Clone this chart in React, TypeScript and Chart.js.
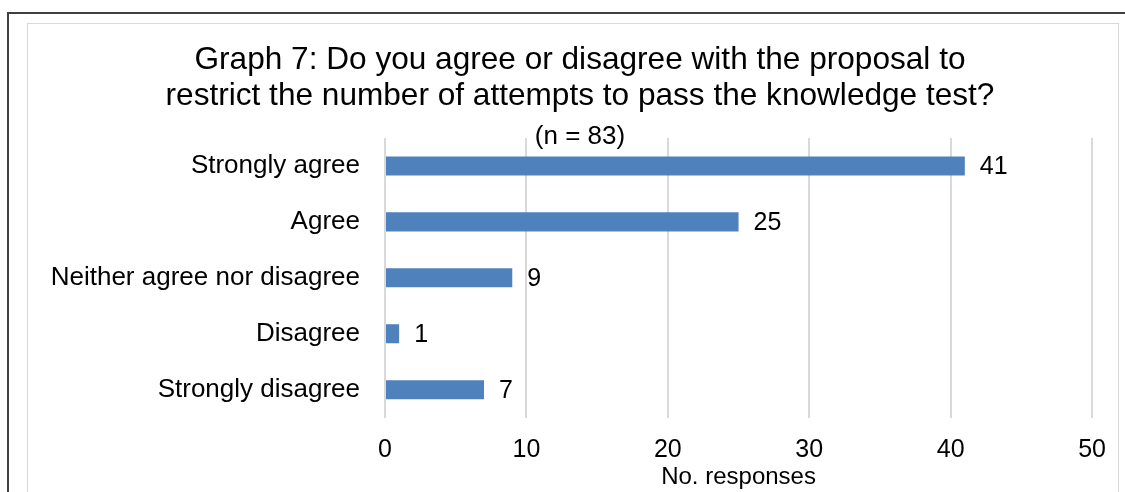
import React, { useEffect, useRef } from 'react';
import { Chart, registerables } from 'chart.js';

Chart.register(...registerables);

const categories = [
  'Strongly agree',
  'Agree',
  'Neither agree nor disagree',
  'Disagree',
  'Strongly disagree',
];
const responses = [41, 25, 9, 1, 7];
const xTickValues = [0, 10, 20, 30, 40, 50];
const titleLines = [
  'Graph 7: Do you agree or disagree with the proposal to',
  'restrict the number of attempts to pass the knowledge test?',
];
const subtitleText = '(n = 83)';
const axisTitleText = 'No. responses';

const FONT = '"Liberation Sans", Arial, Helvetica, sans-serif';
const BAR_COLOR = '#4f81bd';
const GRID_COLOR = '#d9d9d9';
const TITLE_SHIFT = 33;

const dataLabelPlugin = {
  id: 'dataLabels',
  afterDatasetsDraw(chart: any) {
    const ctx = chart.ctx;
    const meta = chart.getDatasetMeta(0);
    ctx.save();
    ctx.font = `25px ${FONT}`;
    ctx.fillStyle = '#000';
    ctx.textAlign = 'left';
    ctx.textBaseline = 'middle';
    meta.data.forEach((el: any, i: number) => {
      ctx.fillText(String(responses[i]), el.x + 15, el.y + 1);
    });
    ctx.restore();
  },
};

// Centre the title block over the whole picture rather than over the plot
const titleShiftPlugin = {
  id: 'titleShift',
  afterLayout(chart: any) {
    chart.boxes
      .filter((b: any) => typeof b._drawArgs === 'function')
      .forEach((b: any) => {
        b.left += TITLE_SHIFT;
        b.right += TITLE_SHIFT;
      });
  },
};

export default function App() {
  const canvasRef = useRef<HTMLCanvasElement | null>(null);

  useEffect(() => {
    if (!canvasRef.current) return;
    const chart = new Chart(canvasRef.current, {
      type: 'bar',
      data: {
        labels: categories,
        datasets: [
          {
            data: responses,
            backgroundColor: BAR_COLOR,
            borderWidth: 0,
            barPercentage: 0.34,
            categoryPercentage: 1,
          },
        ],
      },
      options: {
        indexAxis: 'y',
        responsive: false,
        animation: false,
        devicePixelRatio: 1,
        layout: { padding: { left: 0, right: 30, top: 0, bottom: 0 } },
        plugins: {
          legend: { display: false },
          tooltip: { enabled: false },
          title: {
            display: true,
            text: titleLines,
            color: '#000',
            font: { family: FONT, size: 31.6, weight: 'normal', lineHeight: 35.5 / 31.6 },
            padding: { top: 19, bottom: 0 },
          },
          subtitle: {
            display: true,
            text: subtitleText,
            color: '#000',
            font: { family: FONT, size: 26, weight: 'normal', lineHeight: 30 / 26 },
            padding: { top: 7.5, bottom: -13.5 },
          },
        },
        scales: {
          x: {
            type: 'linear',
            min: 0,
            max: 50,
            afterBuildTicks: (scale: any) => {
              scale.ticks = xTickValues.map((v) => ({ value: v }));
            },
            grid: {
              color: GRID_COLOR,
              lineWidth: 2,
              drawTicks: false,
            },
            border: { display: false },
            ticks: {
              color: '#000',
              padding: 18,
              font: { family: FONT, size: 25, lineHeight: 1.2 },
            },
            title: {
              display: true,
              text: axisTitleText,
              color: '#000',
              font: { family: FONT, size: 24, lineHeight: 1.2 },
              padding: { top: -20.4, bottom: 4 },
            },
          },
          y: {
            type: 'category',
            grid: { display: false, drawTicks: false },
            border: { display: false },
            afterFit: (scale: any) => {
              scale.width = 385;
            },
            ticks: {
              color: '#000',
              padding: 25,
              autoSkip: false,
              font: { family: FONT, size: 26, lineHeight: 1.2 },
            },
          },
        },
      },
      plugins: [dataLabelPlugin, titleShiftPlugin],
    } as any);
    return () => chart.destroy();
  }, []);

  return (
    <div
      style={{
        position: 'fixed',
        left: 0,
        top: 0,
        width: 1125,
        height: 492,
        overflow: 'hidden',
        background: '#fff',
      }}
    >
      <div
        style={{
          position: 'absolute',
          left: 7,
          top: 12,
          width: 1200,
          height: 600,
          borderLeft: '2px solid #404040',
          borderTop: '2px solid #404040',
          boxSizing: 'border-box',
        }}
      />
      <div
        style={{
          position: 'absolute',
          left: 27,
          top: 23,
          width: 1092,
          height: 600,
          border: `1px solid ${GRID_COLOR}`,
          boxSizing: 'border-box',
        }}
      />
      <canvas
        ref={canvasRef}
        width={1124}
        height={472}
        style={{ position: 'absolute', left: 0, top: 24, width: 1124, height: 472 }}
      />
    </div>
  );
}
